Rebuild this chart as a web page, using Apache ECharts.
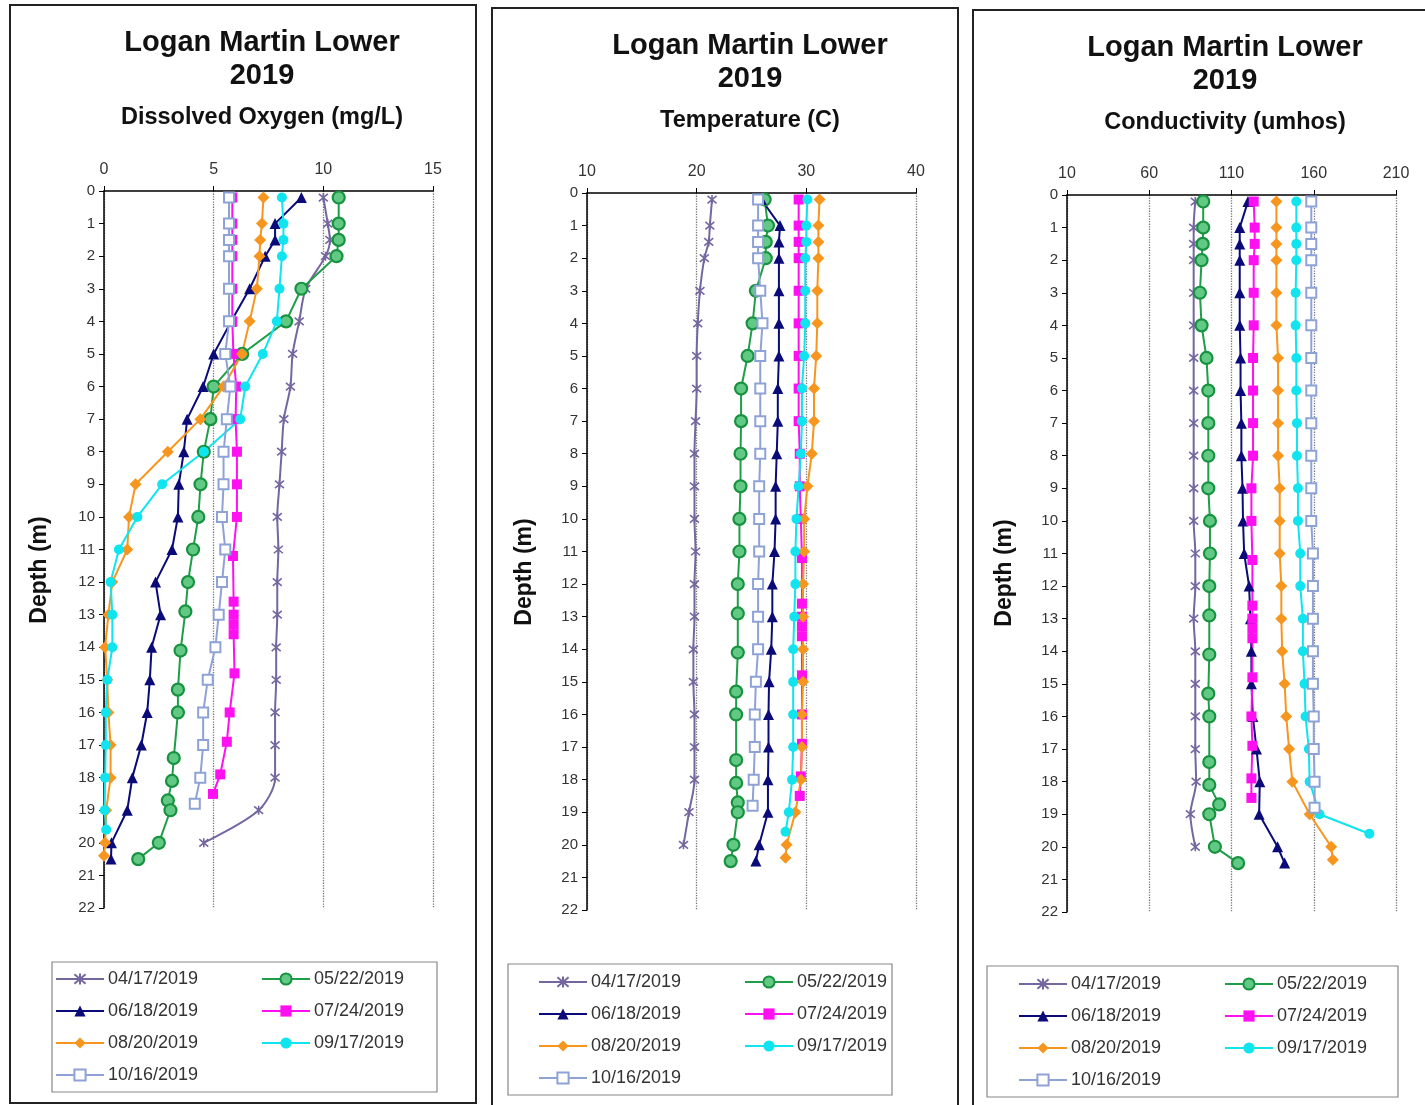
<!DOCTYPE html>
<html>
<head>
    <meta charset="utf-8">
    <script src="https://cdn.jsdelivr.net/npm/echarts@6/dist/echarts.min.js"></script>
    <style>
        html, body { margin: 0; padding: 0; background: #fff; }
        #main { width: 1425px; height: 1105px; }
    </style>
</head>
<body>
<div id="main"></div>
<script type="text/javascript">
    // sampling depths (m) for each survey date
    var dates = ['04/17/2019', '05/22/2019', '06/18/2019', '07/24/2019', '08/20/2019', '09/17/2019', '10/16/2019'];
    var depth0417 = [0.2, 1, 1.5, 2, 3, 4, 5, 6, 7, 8, 9, 10, 11, 12, 13, 14, 15, 16, 17, 18, 19, 20];
    var depth0522 = [0.2, 1, 1.5, 2, 3, 4, 5, 6, 7, 8, 9, 10, 11, 12, 12.9, 14.1, 15.3, 16, 17.4, 18.1, 18.7, 19, 20, 20.5];
    var depth0618 = [0.2, 1, 1.5, 2, 3, 4, 5, 6, 7, 8, 9, 10, 11, 12, 13, 14, 15, 16, 17, 18, 19, 20, 20.5];
    var depth0724 = [0.2, 1, 1.5, 2, 3, 4, 5, 6, 7, 8, 9, 10, 11.2, 12.6, 13, 13.3, 13.6, 14.8, 16, 16.9, 17.9, 18.5];
    var depth0820 = [0.2, 1, 1.5, 2, 3, 4, 5, 6, 7, 8, 9, 10, 11, 12, 13, 14, 15, 16, 17, 18, 19, 20, 20.4];
    var depth0917 = [0.2, 1, 1.5, 2, 3, 4, 5, 6, 7, 8, 9, 10, 11, 12, 13, 14, 15, 16, 17, 18, 19, 19.6];
    var depth1016 = [0.2, 1, 1.5, 2, 3, 4, 5, 6, 7, 8, 9, 10, 11, 12, 13, 14, 15, 16, 17, 18, 18.8];

    // dissolved oxygen (mg/L)
    var do0417 = [10.0, 10.2, 10.3, 10.1, 9.2, 8.9, 8.6, 8.5, 8.2, 8.1, 8.0, 7.9, 7.95, 7.9, 7.9, 7.85, 7.85, 7.8, 7.8, 7.8, 7.05, 4.55];
    var do0522 = [10.7, 10.7, 10.7, 10.6, 9.0, 8.3, 6.3, 5.0, 4.85, 4.55, 4.4, 4.3, 4.06, 3.83, 3.71, 3.49, 3.37, 3.37, 3.18, 3.1, 2.91, 3.03, 2.5, 1.56];
    var do0618 = [9.0, 7.8, 7.8, 7.35, 6.64, 5.8, 5.0, 4.52, 3.79, 3.64, 3.41, 3.37, 3.1, 2.35, 2.58, 2.17, 2.09, 1.97, 1.7, 1.29, 1.06, 0.34, 0.32];
    var do0724 = [5.85, 5.85, 5.85, 5.85, 5.85, 5.85, 5.9, 6.03, 6.0, 6.06, 6.06, 6.06, 5.88, 5.91, 5.91, 5.91, 5.91, 5.95, 5.73, 5.6, 5.3, 4.97];
    var do0820 = [7.27, 7.2, 7.12, 7.09, 6.97, 6.64, 6.29, 5.45, 4.39, 2.91, 1.44, 1.14, 1.06, 0.38, 0.2, 0.05, 0.15, 0.2, 0.3, 0.3, 0.1, 0.05, 0.0];
    var do0917 = [8.11, 8.18, 8.18, 8.11, 8.0, 7.88, 7.24, 6.44, 6.21, 4.55, 2.65, 1.52, 0.68, 0.3, 0.38, 0.38, 0.15, 0.08, 0.08, 0.05, 0.03, 0.1];
    var do1016 = [5.7, 5.7, 5.7, 5.7, 5.7, 5.7, 5.53, 5.76, 5.6, 5.45, 5.45, 5.38, 5.53, 5.38, 5.23, 5.08, 4.73, 4.52, 4.52, 4.39, 4.14];

    // temperature (C)
    var temp0417 = [21.4, 21.2, 21.1, 20.7, 20.3, 20.1, 20.0, 20.0, 19.9, 19.8, 19.8, 19.8, 19.9, 19.8, 19.8, 19.7, 19.7, 19.8, 19.8, 19.8, 19.3, 18.8];
    var temp0522 = [26.2, 26.5, 26.3, 26.3, 25.4, 25.1, 24.65, 24.05, 24.05, 24.0, 24.0, 23.9, 23.9, 23.75, 23.75, 23.75, 23.6, 23.6, 23.6, 23.6, 23.75, 23.75, 23.35, 23.1];
    var temp0618 = [25.9, 27.6, 27.5, 27.5, 27.5, 27.5, 27.5, 27.4, 27.4, 27.3, 27.2, 27.2, 27.1, 26.9, 26.9, 26.8, 26.6, 26.55, 26.55, 26.5, 26.5, 25.7, 25.4];
    var temp0724 = [29.3, 29.3, 29.3, 29.3, 29.3, 29.3, 29.3, 29.3, 29.3, 29.4, 29.4, 29.5, 29.6, 29.6, 29.6, 29.6, 29.6, 29.6, 29.6, 29.6, 29.5, 29.4];
    var temp0820 = [31.2, 31.1, 31.1, 31.1, 31.0, 31.0, 30.9, 30.7, 30.7, 30.5, 30.1, 29.8, 29.8, 29.7, 29.7, 29.7, 29.7, 29.6, 29.6, 29.5, 29.0, 28.2, 28.1];
    var temp0917 = [30.1, 30.0, 30.0, 29.9, 29.9, 29.9, 29.8, 29.6, 29.6, 29.5, 29.3, 29.1, 29.0, 29.0, 28.9, 28.8, 28.8, 28.8, 28.8, 28.7, 28.4, 28.1];
    var temp1016 = [25.6, 25.6, 25.6, 25.6, 25.8, 26.0, 25.8, 25.8, 25.8, 25.8, 25.7, 25.7, 25.7, 25.6, 25.6, 25.6, 25.4, 25.3, 25.3, 25.2, 25.1];

    // conductivity (umhos)
    var cond0417 = [88, 87, 87, 87, 87, 87, 87, 87, 87, 87, 87, 87, 88, 88, 87, 88, 88, 88, 88, 88.5, 85, 88];
    var cond0522 = [92.8, 92.8, 92.5, 91.8, 90.8, 91.8, 94.8, 95.9, 95.9, 95.9, 95.9, 96.9, 96.9, 96.5, 96.5, 96.5, 95.9, 96.5, 96.5, 96.5, 102.5, 96.5, 99.9, 114];
    var cond0618 = [120, 115, 115, 115, 115, 115, 115.5, 115.5, 116, 116, 116.7, 117, 117.7, 120.7, 121.5, 122.1, 122.1, 123, 125.2, 127.2, 126.8, 138, 142.3];
    var cond0724 = [123.5, 124.1, 124.1, 123.5, 123.5, 123.5, 123.1, 123.1, 123.1, 123.1, 122.1, 122.1, 122.7, 122.7, 122.7, 122.7, 122.7, 122.7, 122.1, 122.7, 122.1, 122.1];
    var cond0820 = [137.3, 137.3, 137.3, 137.3, 137.3, 137.3, 138.3, 138.3, 138.3, 138.3, 139.3, 139.3, 139.3, 140.3, 140.3, 140.8, 142.3, 143.3, 145, 147, 157.5, 170.6, 171.6];
    var cond0917 = [149.4, 149.4, 149.4, 149.4, 149, 149, 149.4, 149.4, 149.8, 149.8, 150.4, 150.4, 151.8, 151.8, 153.4, 153.4, 154.4, 155, 157, 157.5, 163.5, 193.8];
    var cond1016 = [158.5, 158.5, 158.5, 158.5, 158.5, 158.5, 158.5, 158.5, 158.5, 158.5, 158.5, 158.5, 159.5, 159.5, 159.5, 159.5, 159.5, 160, 160, 160.5, 160.5];

    // axis ticks
    var depthTicks = {min: 0, max: 22, interval: 1};
    var doTicks = {min: 0, max: 15, interval: 5};
    var tempTicks = {min: 10, max: 40, interval: 10};
    var condTicks = {min: 10, max: 210, interval: 50};

    var depths = [depth0417, depth0522, depth0618, depth0724, depth0820, depth0917, depth1016];
    var panelValues = [
        [do0417, do0522, do0618, do0724, do0820, do0917, do1016],
        [temp0417, temp0522, temp0618, temp0724, temp0820, temp0917, temp1016],
        [cond0417, cond0522, cond0618, cond0724, cond0820, cond0917, cond1016]
    ];

    var xPath = 'path://M0,0L10,10M10,0L0,10M5,-1L5,11';
    var styles = [
        {color: '#7467A0', symbol: xPath, size: 9, border: '#7467A0', bw: 1.6, smooth: 0.3},
        {color: '#1E9E48', symbol: 'circle', size: 12, fill: '#62C985', border: '#17933F', bw: 2.2},
        {color: '#0A0A78', symbol: 'triangle', size: 11},
        {color: '#FF10F0', symbol: 'rect', size: 10},
        {color: '#F7961E', symbol: 'diamond', size: 12},
        {color: '#10E4EE', symbol: 'circle', size: 10},
        {color: '#8EA2D6', symbol: 'emptyRect', size: 10, border: '#8EA2D6', bw: 1.5}
    ];

    var panels = [
        {left: 104, top: 191, width: 329, height: 717, ticks: doTicks, sub: 'Dissolved Oxygen (mg/L)',
            cx: 262, ty: 43, box: [10, 5, 466, 1098], lg: [52, 962, 385, 130], cols: [55, 261], ly: 969, nx: 40, ny: 570},
        {left: 587, top: 193, width: 329, height: 717, ticks: tempTicks, sub: 'Temperature (C)',
            cx: 750, ty: 46, box: [492, 8, 466, 1100], lg: [508, 964, 384, 131], cols: [538, 744], ly: 972, nx: 525, ny: 572},
        {left: 1067, top: 195, width: 329, height: 717, ticks: condTicks, sub: 'Conductivity (umhos)',
            cx: 1225, ty: 48, box: [973, 10, 460, 1100], lg: [987, 966, 411, 131], cols: [1018, 1224], ly: 974, nx: 1005, ny: 573}
    ];

    var grids = [], xAxes = [], yAxes = [], series = [], legends = [], graphics = [];
    panels.forEach(function (p, k) {
        grids.push({left: p.left, top: p.top, width: p.width, height: p.height, containLabel: false});
        xAxes.push({
            type: 'value', gridIndex: k, position: 'top',
            min: p.ticks.min, max: p.ticks.max, interval: p.ticks.interval,
            axisLine: {show: true, lineStyle: {color: '#000', width: 1.5}},
            axisTick: {show: true, length: 5, lineStyle: {color: '#000'}},
            axisLabel: {color: '#333', fontSize: 16, margin: 13, fontFamily: 'Liberation Sans, Arial'},
            splitLine: {show: true, lineStyle: {color: '#777', type: 'dotted', width: 1.3}}
        });
        yAxes.push({
            type: 'value', gridIndex: k, inverse: true,
            min: depthTicks.min, max: depthTicks.max, interval: depthTicks.interval,
            axisLine: {show: true, onZero: false, lineStyle: {color: '#000', width: 1.5}},
            axisTick: {show: true, length: 5, lineStyle: {color: '#000'}},
            axisLabel: {color: '#333', fontSize: 15, margin: 9, fontFamily: 'Liberation Sans, Arial'},
            splitLine: {show: false}
        });
        dates.forEach(function (d, i) {
            var st = styles[i];
            var vals = panelValues[k][i];
            var item = {color: st.fill || st.color};
            if (st.border) { item.borderColor = st.border; item.borderWidth = st.bw; }
            series.push({
                name: d, type: 'line', xAxisIndex: k, yAxisIndex: k,
                data: vals.map(function (v, j) { return [v, depths[i][j]]; }),
                symbol: st.symbol, symbolSize: st.size, showAllSymbol: true,
                smooth: st.smooth || false,
                lineStyle: {color: st.color, width: 2},
                itemStyle: item
            });
        });
        var colA = [dates[0], dates[2], dates[4], dates[6]];
        var colB = [dates[1], dates[3], dates[5]];
        [colA, colB].forEach(function (names, c) {
            legends.push({
                data: names, orient: 'vertical', left: p.cols[c], top: p.ly,
                itemWidth: 48, itemHeight: 14, itemGap: 12, padding: 0,
                textStyle: {fontSize: 18, color: '#333', lineHeight: 20, padding: [0, 0, 0, -1], fontFamily: 'Liberation Sans, Arial'}
            });
        });
        graphics.push({
            type: 'rect', shape: {x: p.box[0], y: p.box[1], width: p.box[2], height: p.box[3]},
            style: {fill: 'none', stroke: '#222', lineWidth: 2}, silent: true
        });
        graphics.push({
            type: 'rect', shape: {x: p.lg[0], y: p.lg[1], width: p.lg[2], height: p.lg[3]},
            style: {fill: 'none', stroke: '#888', lineWidth: 1.2}, silent: true
        });
        graphics.push({
            type: 'text', x: p.cx, y: p.ty + 16.5,
            style: {text: 'Logan Martin Lower\n2019', textAlign: 'center', textVerticalAlign: 'middle',
                font: 'bold 29px Liberation Sans, Arial', fill: '#111', lineHeight: 33}
        });
        graphics.push({
            type: 'text', x: p.cx, y: p.ty + 75,
            style: {text: p.sub, textAlign: 'center', textVerticalAlign: 'middle',
                font: 'bold 23.5px Liberation Sans, Arial', fill: '#111'}
        });
        graphics.push({
            type: 'text', x: p.nx, y: p.ny, rotation: Math.PI / 2,
            style: {text: 'Depth (m)', textAlign: 'center', textVerticalAlign: 'middle',
                font: 'bold 23px Liberation Sans, Arial', fill: '#111'}
        });
    });

    var myChart = echarts.init(document.getElementById('main'));
    myChart.setOption({
        animation: false,
        backgroundColor: '#fff',
        grid: grids,
        xAxis: xAxes,
        yAxis: yAxes,
        legend: legends,
        series: series,
        graphic: graphics
    });
</script>
</body>
</html>
